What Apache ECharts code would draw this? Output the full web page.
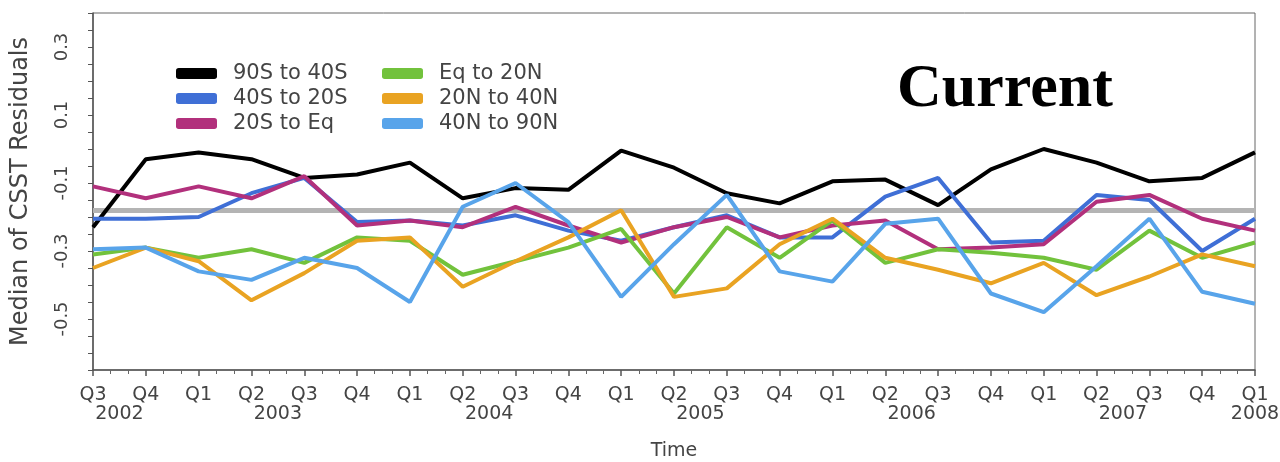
<!DOCTYPE html>
<html>
<head>
<meta charset="utf-8">
<script src="https://cdn.jsdelivr.net/npm/echarts@6/dist/echarts.min.js"></script>
<style>
html,body{margin:0;padding:0;background:#fff;}
#chart{width:1280px;height:462px;}
</style>
</head>
<body>
<div id="chart"></div>
<script>
// ---- data ----
var quarterLabels = ['Q3','Q4','Q1','Q2','Q3','Q4','Q1','Q2','Q3','Q4','Q1','Q2','Q3','Q4','Q1','Q2','Q3','Q4','Q1','Q2','Q3','Q4','Q1'];
var yearLabels = ['2002','2003','2004','2005','2006','2007','2008'];
var yearLabelPos = [0.5, 3.5, 7.5, 11.5, 15.5, 19.5, 22];
var yTickValues = [-0.5, -0.3, -0.1, 0.1, 0.3];
var yTickLabels = ['-0.5', '-0.3', '-0.1', '0.1', '0.3'];
var seriesNames = ['90S to 40S','40S to 20S','20S to Eq','Eq to 20N','20N to 40N','40N to 90N'];

var s90Sto40S = [-0.23, -0.03, -0.01, -0.03, -0.085, -0.075, -0.04, -0.145, -0.115, -0.12, -0.005, -0.055, -0.13, -0.16, -0.095, -0.09, -0.165, -0.06, 0.0, -0.04, -0.095, -0.085, -0.01];
var s40Sto20S = [-0.205, -0.205, -0.2, -0.13, -0.085, -0.215, -0.21, -0.225, -0.195, -0.24, -0.27, -0.23, -0.195, -0.26, -0.26, -0.14, -0.085, -0.275, -0.27, -0.135, -0.15, -0.3, -0.205];
var s20StoEq = [-0.11, -0.145, -0.11, -0.145, -0.08, -0.225, -0.21, -0.23, -0.17, -0.225, -0.275, -0.23, -0.2, -0.26, -0.225, -0.21, -0.295, -0.29, -0.28, -0.155, -0.135, -0.205, -0.24];
var sEqto20N = [-0.31, -0.29, -0.32, -0.295, -0.335, -0.26, -0.27, -0.37, -0.33, -0.29, -0.235, -0.425, -0.23, -0.32, -0.21, -0.335, -0.295, -0.305, -0.32, -0.355, -0.24, -0.32, -0.275];
var s20Nto40N = [-0.35, -0.29, -0.33, -0.445, -0.365, -0.27, -0.26, -0.405, -0.33, -0.26, -0.18, -0.435, -0.41, -0.28, -0.205, -0.32, -0.355, -0.395, -0.335, -0.43, -0.375, -0.31, -0.345];
var s40Nto90N = [-0.295, -0.29, -0.36, -0.385, -0.32, -0.35, -0.45, -0.17, -0.1, -0.215, -0.435, -0.28, -0.135, -0.36, -0.39, -0.22, -0.205, -0.425, -0.48, -0.345, -0.205, -0.42, -0.455];
var overallMedian = -0.185;

var seriesData = [s90Sto40S, s40Sto20S, s20StoEq, sEqto20N, s20Nto40N, s40Nto90N];
var seriesColors = ['#000000', '#3f6fd6', '#b2307c', '#72c23c', '#e9a322', '#58a4ea'];

// ---- chart ----
var chart = echarts.init(document.getElementById('chart'), null, {renderer: 'canvas'});
var txt = '#444';
var font = 'DejaVu Sans, Verdana, sans-serif';

function pairs(arr) { return arr.map(function (v, i) { return [i, v]; }); }

var series = seriesData.map(function (d, k) {
  var s = {
    name: seriesNames[k],
    type: 'line',
    data: pairs(d),
    showSymbol: false,
    symbol: 'none',
    lineStyle: {color: seriesColors[k], width: 4},
    itemStyle: {color: seriesColors[k]},
    z: 3 + k,
    animation: false
  };
  if (k === 0) {
    s.markLine = {
      silent: true,
      symbol: 'none',
      label: {show: false},
      lineStyle: {color: '#b4b4b4', width: 5, type: 'solid'},
      data: [{yAxis: overallMedian}],
      z: 1,
      animation: false
    };
  }
  return s;
});

var legendBase = {
  orient: 'vertical', top: 58,
  itemWidth: 41, itemHeight: 11, itemGap: 4,
  icon: 'roundRect',
  textStyle: {color: txt, fontSize: 21, fontFamily: font, lineHeight: 21, padding: [0, 0, 0, 11]}
};

var option = {
  backgroundColor: '#fff',
  animation: false,
  title: {
    text: 'Current',
    left: 892, top: 54,
    textStyle: {fontFamily: 'Liberation Serif, Times New Roman, serif', fontWeight: 'bold', fontSize: 62, color: '#000'}
  },
  legend: [
    Object.assign({}, legendBase, {data: seriesNames.slice(0, 3), left: 171}),
    Object.assign({}, legendBase, {data: seriesNames.slice(3, 6), left: 377})
  ],
  grid: {left: 93, right: 25, top: 13, bottom: 92, containLabel: false, outerBoundsMode: 'none',
         show: true, borderColor: '#666', borderWidth: 1, backgroundColor: 'transparent'},
  xAxis: [
    {
      type: 'value', min: 0, max: 22, interval: 1,
      name: 'Time', nameLocation: 'middle', nameGap: 72,
      nameTextStyle: {color: txt, fontSize: 19, fontFamily: font},
      axisLine: {show: true, onZero: false, lineStyle: {color: '#555', width: 1.5}},
      axisTick: {show: true, length: 6, lineStyle: {color: '#555', width: 1.5}},
      minorTick: {show: true, splitNumber: 3, length: 4, lineStyle: {color: '#666', width: 1}},
      splitLine: {show: false},
      axisLabel: {
        color: txt, fontSize: 19, fontFamily: font, margin: 16,
        formatter: function (v) { var i = Math.round(v); return quarterLabels[i] || ''; }
      }
    },
    {
      type: 'value', min: 0, max: 22, interval: 0.5, position: 'bottom',
      axisLine: {show: false, onZero: false}, axisTick: {show: false}, splitLine: {show: false},
      axisLabel: {
        color: txt, fontSize: 19, fontFamily: font, margin: 35, showMinLabel: true, showMaxLabel: true,
        formatter: function (v) {
          for (var j = 0; j < yearLabelPos.length; j++) {
            if (Math.abs(yearLabelPos[j] - v) < 1e-6) return yearLabels[j];
          }
          return '';
        }
      }
    }
  ],
  yAxis: {
    type: 'value', min: -0.65, max: 0.4, interval: 0.05,
    name: 'Median of CSST Residuals', nameLocation: 'middle', nameRotate: 90, nameGap: 60,
    nameTextStyle: {color: txt, fontSize: 24, fontFamily: font},
    axisLine: {show: true, onZero: false, lineStyle: {color: '#555', width: 1.5}},
    axisTick: {show: true, length: 5, lineStyle: {color: '#555', width: 1}},
    splitLine: {show: false},
    axisLabel: {
      color: txt, fontSize: 18, fontFamily: font, rotate: 90, margin: 22,
      showMinLabel: true, showMaxLabel: true,
      formatter: function (v) {
        for (var j = 0; j < yTickValues.length; j++) {
          if (Math.abs(yTickValues[j] - v) < 1e-6) return yTickLabels[j];
        }
        return '';
      }
    }
  },
  series: series
};
chart.setOption(option);
</script>
</body>
</html>
